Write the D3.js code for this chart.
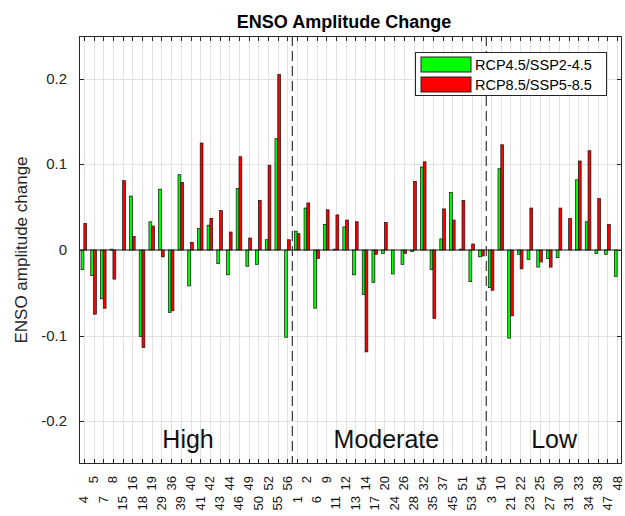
<!DOCTYPE html>
<html>
<head>
<meta charset="utf-8">
<script src="https://cdn.jsdelivr.net/npm/d3@7"></script>
<style>
  body { margin: 0; background: #fff; }
  text { font-family: "Liberation Sans", Arial, sans-serif; fill: #262626; }
</style>
</head>
<body>
<script>
"use strict";

// station numbers, grouped by region (High | Moderate | Low)
const stations = [
  "4", "5", "7", "8", "15", "16", "18", "19", "29", "36", "39", "40", "41", "42", "43", "44", "46", "49", "50", "52", "55", "56",
  "1", "2", "6", "9", "11", "12", "13", "14", "17", "20", "24", "26", "28", "32", "35", "37", "45", "51", "53", "54",
  "3", "10", "21", "22", "23", "25", "27", "30", "31", "33", "34", "38", "47", "48"
];
const regionNames = ["High", "Moderate", "Low"];
const regionSizes = [22, 20, 14];

const rcp45 = [
  -0.023, -0.030, -0.057, 0.001, 0.000, 0.063, -0.101, 0.033, 0.071, -0.073, 0.088, -0.042, 0.025, 0.029, -0.016, -0.029, 0.072, -0.019, -0.017, 0.012, 0.130, -0.102,
  0.022, 0.049, -0.068, 0.030, 0.001, 0.027, -0.029, -0.052, -0.038, -0.004, -0.028, -0.017, -0.002, 0.097, -0.023, 0.013, 0.067, 0.001, -0.037, -0.008,
  -0.044, 0.095, -0.103, -0.005, -0.011, -0.020, -0.010, -0.009, 0.000, 0.082, 0.033, -0.004, -0.005, -0.031
];
const rcp85 = [
  0.031, -0.075, -0.068, -0.034, 0.081, 0.016, -0.114, 0.028, -0.008, -0.071, 0.079, 0.009, 0.125, 0.037, 0.046, 0.021, 0.109, 0.014, 0.058, 0.099, 0.205, 0.012,
  0.019, 0.055, -0.010, 0.047, 0.041, 0.035, 0.033, -0.119, -0.005, 0.032, 0.000, -0.004, 0.080, 0.103, -0.080, 0.048, 0.035, 0.058, 0.007, -0.007,
  -0.047, 0.123, -0.077, -0.022, 0.049, -0.014, -0.020, 0.049, 0.037, 0.104, 0.116, 0.060, 0.030, 0.000
];
const seriesNames = ["RCP4.5/SSP2-4.5", "RCP8.5/SSP5-8.5"];
const seriesColors = ["#00ff00", "#ff0000"];
const yTicks = [-0.2, -0.1, 0, 0.1, 0.2];

const width = 625, height = 516;
const margin = { top: 36, right: 3, bottom: 52, left: 79 };
const innerRight = width - margin.right;
const innerBottom = height - margin.bottom;

let svg = d3
  .select("body")
  .append("svg")
  .attr("width", width)
  .attr("height", height);

const x = d3.scaleLinear().domain([0.5, stations.length + 0.5]).range([margin.left, innerRight]);
const y = d3.scaleLinear().domain([-0.25, 0.25]).range([innerBottom, margin.top]);
const idx = d3.range(stations.length);

// grid
let grid = svg.append("g").attr("stroke", "#e2e2e2").attr("stroke-width", 1);
grid.selectAll("line.vx")
  .data(idx)
  .enter()
  .append("line")
  .attr("x1", i => Math.round(x(i + 1)) + 0.5)
  .attr("x2", i => Math.round(x(i + 1)) + 0.5)
  .attr("y1", margin.top)
  .attr("y2", innerBottom);
grid.selectAll("line.hy")
  .data(yTicks)
  .enter()
  .append("line")
  .attr("x1", margin.left)
  .attr("x2", innerRight)
  .attr("y1", d => Math.round(y(d)) + 0.5)
  .attr("y2", d => Math.round(y(d)) + 0.5);

// bars
const bw = 0.29;
[rcp45, rcp85].forEach((vals, s) => {
  svg.append("g")
    .selectAll("rect")
    .data(vals)
    .enter()
    .append("rect")
    .attr("x", (d, i) => x(i + 1 + (s === 0 ? -bw : 0)))
    .attr("width", x(bw) - x(0))
    .attr("y", d => y(Math.max(0, d)))
    .attr("height", d => Math.abs(y(d) - y(0)))
    .attr("fill", seriesColors[s])
    .attr("stroke", "#111")
    .attr("stroke-width", 0.7);
});

// baseline
svg.append("line")
  .attr("x1", margin.left)
  .attr("x2", innerRight)
  .attr("y1", y(0))
  .attr("y2", y(0))
  .attr("stroke", "#222")
  .attr("stroke-width", 1);

// region separators
let cum = d3.cumsum(regionSizes);
svg.append("g")
  .selectAll("line")
  .data(cum.slice(0, -1))
  .enter()
  .append("line")
  .attr("x1", d => x(d + 0.5))
  .attr("x2", d => x(d + 0.5))
  .attr("y1", margin.top)
  .attr("y2", innerBottom)
  .attr("stroke", "#222")
  .attr("stroke-width", 1.1)
  .attr("stroke-dasharray", "10,5");

// region names
const regionX = [11.75, 32.2, 49.5];
svg.append("g")
  .selectAll("text")
  .data(regionNames)
  .enter()
  .append("text")
  .attr("x", (d, i) => x(regionX[i]))
  .attr("y", 448)
  .attr("text-anchor", "middle")
  .attr("font-size", 25)
  .style("fill", "#111")
  .text(d => d);

// axes box and ticks
let axes = svg.append("g").attr("stroke", "#262626").attr("stroke-width", 1);
axes.append("rect")
  .attr("x", margin.left + 0.5)
  .attr("y", margin.top + 0.5)
  .attr("width", innerRight - margin.left - 1)
  .attr("height", innerBottom - margin.top - 1)
  .attr("fill", "none");
idx.forEach(i => {
  let xx = Math.round(x(i + 1)) + 0.5;
  axes.append("line").attr("x1", xx).attr("x2", xx).attr("y1", innerBottom).attr("y2", innerBottom - 5);
  axes.append("line").attr("x1", xx).attr("x2", xx).attr("y1", margin.top).attr("y2", margin.top + 5);
});
yTicks.forEach(t => {
  let yy = Math.round(y(t)) + 0.5;
  axes.append("line").attr("x1", margin.left).attr("x2", margin.left + 5).attr("y1", yy).attr("y2", yy);
  axes.append("line").attr("x1", innerRight).attr("x2", innerRight - 5).attr("y1", yy).attr("y2", yy);
});

// y tick labels (plain hyphen minus, like the original)
svg.append("g")
  .selectAll("text")
  .data(yTicks)
  .enter()
  .append("text")
  .attr("x", 67)
  .attr("y", d => y(d) + 5)
  .attr("text-anchor", "end")
  .attr("font-size", 15)
  .text(d => String(d));

// x tick labels, rotated and staggered
svg.append("g")
  .selectAll("text")
  .data(stations)
  .enter()
  .append("text")
  .attr("transform", (d, i) => {
    let yy = i % 2 === 0 ? 496 : 476;
    return `translate(${x(i + 1) + 4.5},${yy}) rotate(-90)`;
  })
  .attr("text-anchor", "end")
  .attr("font-size", 13)
  .style("fill", "#111")
  .text(d => d);

// title and y label
svg.append("text")
  .attr("x", 344)
  .attr("y", 28)
  .attr("text-anchor", "middle")
  .attr("font-size", 18)
  .attr("font-weight", "bold")
  .style("fill", "#000")
  .text("ENSO Amplitude Change");

svg.append("text")
  .attr("transform", `translate(26.5,${y(0)}) rotate(-90)`)
  .attr("text-anchor", "middle")
  .attr("font-size", 17)
  .text("ENSO amplitude change");

// legend
let legend = svg.append("g");
legend.append("rect")
  .attr("x", 415.5)
  .attr("y", 52.5)
  .attr("width", 191)
  .attr("height", 43)
  .attr("fill", "#fff")
  .attr("stroke", "#262626")
  .attr("stroke-width", 1);
seriesNames.forEach((name, s) => {
  legend.append("rect")
    .attr("x", 421)
    .attr("y", 57 + s * 20)
    .attr("width", 50)
    .attr("height", 15)
    .attr("fill", seriesColors[s])
    .attr("stroke", "#222")
    .attr("stroke-width", 1);
  legend.append("text")
    .attr("x", 475)
    .attr("y", 70 + s * 20)
    .attr("font-size", 14.5)
    .style("fill", "#000")
    .text(name);
});
</script>
</body>
</html>
